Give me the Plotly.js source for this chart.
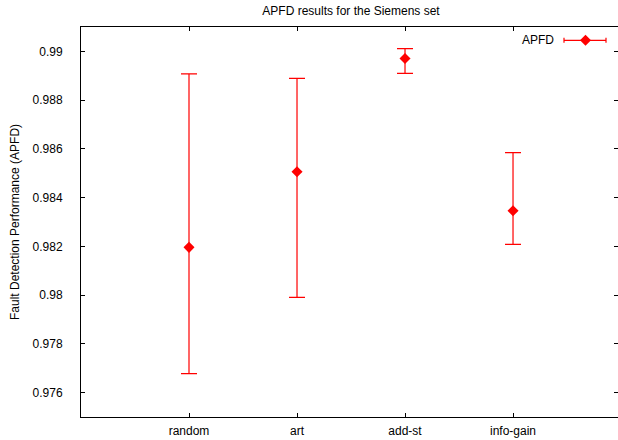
<!DOCTYPE html>
<html>
<head>
<meta charset="utf-8">
<script src="https://cdn.plot.ly/plotly-3.0.1.min.js"></script>
<style>html,body{margin:0;padding:0;background:#fff;}#chart{width:618px;height:440px;}</style>
</head>
<body>
<div id="chart"></div>
<script>
const categories = ["random", "art", "add-st", "info-gain"];
const positions = [1, 2, 3, 4];
const apfdMean = [0.98196, 0.98506, 0.98971, 0.98346];
const apfdHigh = [0.98908, 0.98889, 0.99011, 0.98585];
const apfdLow  = [0.97678, 0.97991, 0.98910, 0.98208];
const yTickVals = [0.976, 0.978, 0.98, 0.982, 0.984, 0.986, 0.988, 0.99];
const yTickText = ["0.976", "0.978", "0.98", "0.982", "0.984", "0.986", "0.988", "0.99"];

const errPlus = apfdMean.map((m, i) => apfdHigh[i] - m);
const errMinus = apfdMean.map((m, i) => m - apfdLow[i]);

const font = {family: "Liberation Sans, Arial, sans-serif", size: 12, color: "#000"};

const trace = {
  type: "scatter",
  mode: "markers",
  x: positions,
  y: apfdMean,
  name: "APFD",
  showlegend: false,
  marker: {symbol: "diamond", size: 8.5, color: "#ff0000", line: {width: 0}},
  error_y: {type: "data", symmetric: false, array: errPlus, arrayminus: errMinus,
            color: "#ff0000", thickness: 1.2, width: 8},
  cliponaxis: false
};

// legend (gnuplot style: text left of sample)
const plotL = 81, plotR = 618, plotT = 27, plotB = 417;
const px = v => (v - plotL) / (plotR - plotL);
const py = v => (plotB - v) / (plotB - plotT);
const legY = 40.3;
const shapes = [
  {type: "line", xref: "paper", yref: "paper", x0: px(564), x1: px(606), y0: py(legY), y1: py(legY), line: {color: "#ff0000", width: 1.2}},
  {type: "line", xref: "paper", yref: "paper", x0: px(564), x1: px(564), y0: py(legY - 2.5), y1: py(legY + 2.5), line: {color: "#ff0000", width: 1.2}},
  {type: "line", xref: "paper", yref: "paper", x0: px(606), x1: px(606), y0: py(legY - 2.5), y1: py(legY + 2.5), line: {color: "#ff0000", width: 1.2}},
  {type: "path", xref: "paper", yref: "paper", xsizemode: "pixel", ysizemode: "pixel", xanchor: px(585.5), yanchor: py(legY),
   path: "M -5.5 0 L 0 5.5 L 5.5 0 L 0 -5.5 Z", fillcolor: "#ff0000", line: {width: 0}}
];

const layout = {
  width: 618, height: 440,
  margin: {l: plotL, r: 0, t: plotT, b: 440 - plotB, pad: 0},
  paper_bgcolor: "#fff", plot_bgcolor: "#fff",
  font: font,
  showlegend: false,
  title: {text: "APFD results for the Siemens set", font: {family: font.family, size: 12, color: "#000"},
          x: 351 / 618, xref: "container", xanchor: "center", y: 1 - 11 / 440, yref: "container", yanchor: "middle"},
  xaxis: {
    range: [0, 4.972], tickvals: positions, ticktext: categories,
    showgrid: false, zeroline: false, showline: true, linecolor: "#000", linewidth: 1,
    mirror: "ticks", ticks: "inside", ticklen: 4, tickcolor: "#000", tickwidth: 1,
    tickfont: font, ticklabelstandoff: 3, fixedrange: true
  },
  yaxis: {
    range: [0.975, 0.991], tickvals: yTickVals, ticktext: yTickText,
    showgrid: false, zeroline: false, showline: true, linecolor: "#000", linewidth: 1,
    mirror: "ticks", ticks: "inside", ticklen: 4, tickcolor: "#000", tickwidth: 1,
    tickfont: font, ticklabelstandoff: 15,
    title: {text: "Fault Detection Performance (APFD)", font: {family: font.family, size: 12, color: "#000"}, standoff: 10},
    fixedrange: true
  },
  shapes: shapes,
  annotations: [
    {text: "APFD", xref: "paper", yref: "paper", x: px(556), y: py(legY), xanchor: "right", yanchor: "middle",
     showarrow: false, font: font}
  ]
};

Plotly.newPlot("chart", [trace], layout, {displayModeBar: false, staticPlot: true});
</script>
</body>
</html>
